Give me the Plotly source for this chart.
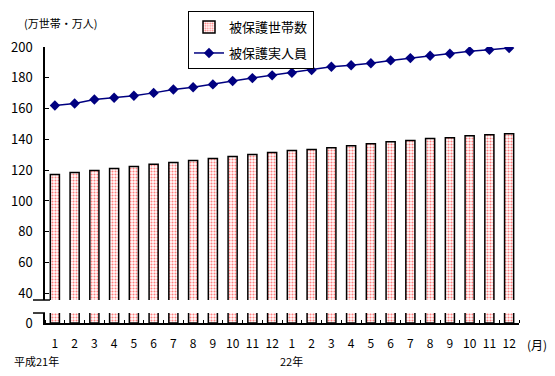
import plotly.graph_objects as go

# Data (万世帯 / 万人), 平成21年1月 ～ 22年12月
month_labels = ["1", "2", "3", "4", "5", "6", "7", "8", "9", "10", "11", "12",
                "1", "2", "3", "4", "5", "6", "7", "8", "9", "10", "11", "12"]
households = [117.2, 118.5, 119.8, 121.1, 122.4, 123.9, 125.0, 126.3, 127.5, 128.8, 130.1, 131.4,
              132.7, 133.4, 134.6, 135.9, 137.2, 138.5, 139.2, 140.5, 141.1, 142.4, 143.0, 143.7]
persons = [162.0, 163.3, 165.9, 167.0, 168.3, 170.2, 172.4, 173.9, 175.7, 177.9, 179.8, 181.6,
           183.3, 185.0, 187.2, 188.1, 189.4, 191.3, 192.8, 194.3, 195.6, 197.2, 198.2, 199.3]
y_ticks = [40, 60, 80, 100, 120, 140, 160, 180, 200]

x = list(range(1, len(month_labels) + 1))
FONT = "Noto Sans CJK JP"

bar_style = dict(
    color="white",
    line=dict(color="black", width=1.5),
    pattern=dict(shape=".", fgcolor="#ff0000", bgcolor="white", size=3, solidity=0.4),
)

fig = go.Figure()
fig.add_trace(go.Bar(x=x, y=households, name="被保護世帯数", marker=bar_style,
                     width=0.46, xaxis="x", yaxis="y", legendgroup="a"))
fig.add_trace(go.Bar(x=x, y=households, name="被保護世帯数", marker=bar_style,
                     width=0.46, xaxis="x", yaxis="y2", showlegend=False, legendgroup="a"))
fig.add_trace(go.Scatter(x=x, y=persons, name="被保護実人員", mode="lines+markers",
                         line=dict(color="#000080", width=1.5),
                         marker=dict(symbol="diamond", size=8, color="#000080"),
                         xaxis="x", yaxis="y", legendgroup="b"))

# The page body adds an 8px offset; size the figure so the plot lands where the reference has it.
fig.update_layout(
    width=547, height=368,
    margin=dict(l=37, r=36, t=39, b=53, autoexpand=False),
    plot_bgcolor="white", paper_bgcolor="white",
    font=dict(family=FONT, size=13, color="black"),
    barmode="overlay",
    xaxis=dict(
        domain=[0, 1], anchor="y2", range=[0.5, 24.5],
        tickvals=x, ticktext=month_labels, ticks="",
        showline=True, linecolor="black", linewidth=1.5,
        showgrid=False, zeroline=False,
        tickfont=dict(size=12), ticklabelstandoff=9,
        minor=dict(tick0=0.5, dtick=1, ticks="inside", ticklen=3,
                   tickcolor="black", showgrid=False),
    ),
    yaxis=dict(
        domain=[0.0833, 1], anchor="x", range=[35.65, 200],
        tickvals=y_ticks, ticks="inside", ticklen=4, tickcolor="black",
        showline=True, linecolor="black", linewidth=1.5,
        showgrid=False, zeroline=False, ticklabelstandoff=8,
        tickfont=dict(size=13),
    ),
    yaxis2=dict(
        domain=[0, 0.0362], anchor="x", range=[0, 6.5],
        tickvals=[0], ticks="", showline=True, linecolor="black", linewidth=1.5,
        showgrid=False, zeroline=False, ticklabelstandoff=8,
        tickfont=dict(size=13),
    ),
    legend=dict(
        x=0.3017, y=1.130, xanchor="left", yanchor="top",
        bordercolor="black", borderwidth=1, bgcolor="white",
        font=dict(size=13), traceorder="grouped", tracegroupgap=6,
    ),
    showlegend=True,
)

# broken-axis markers
fig.add_shape(type="line", xref="paper", yref="paper",
              x0=-0.0253, x1=0.0105, y0=0.0833, y1=0.0833,
              line=dict(color="black", width=1.5))
fig.add_shape(type="line", xref="paper", yref="paper",
              x0=-0.0253, x1=0.0, y0=0.0362, y1=0.0362,
              line=dict(color="black", width=1.5))

fig.add_annotation(text="(万世帯・万人)", xref="paper", yref="paper",
                   x=-0.0485, y=1.0858, xanchor="left", yanchor="middle",
                   showarrow=False, font=dict(size=11))
fig.add_annotation(text="平成21年", xref="paper", yref="paper",
                   x=(36.5 - 45) / 474, y=-0.137, xanchor="center", yanchor="middle",
                   showarrow=False, font=dict(size=11))
fig.add_annotation(text="22年", xref="paper", yref="paper",
                   x=(291.5 - 45) / 474, y=-0.137, xanchor="center", yanchor="middle",
                   showarrow=False, font=dict(size=11))
fig.add_annotation(text="(月)", xref="paper", yref="paper",
                   x=(537 - 45) / 474, y=-0.0796, xanchor="center", yanchor="middle",
                   showarrow=False, font=dict(size=12))

fig.write_html("out.html")
